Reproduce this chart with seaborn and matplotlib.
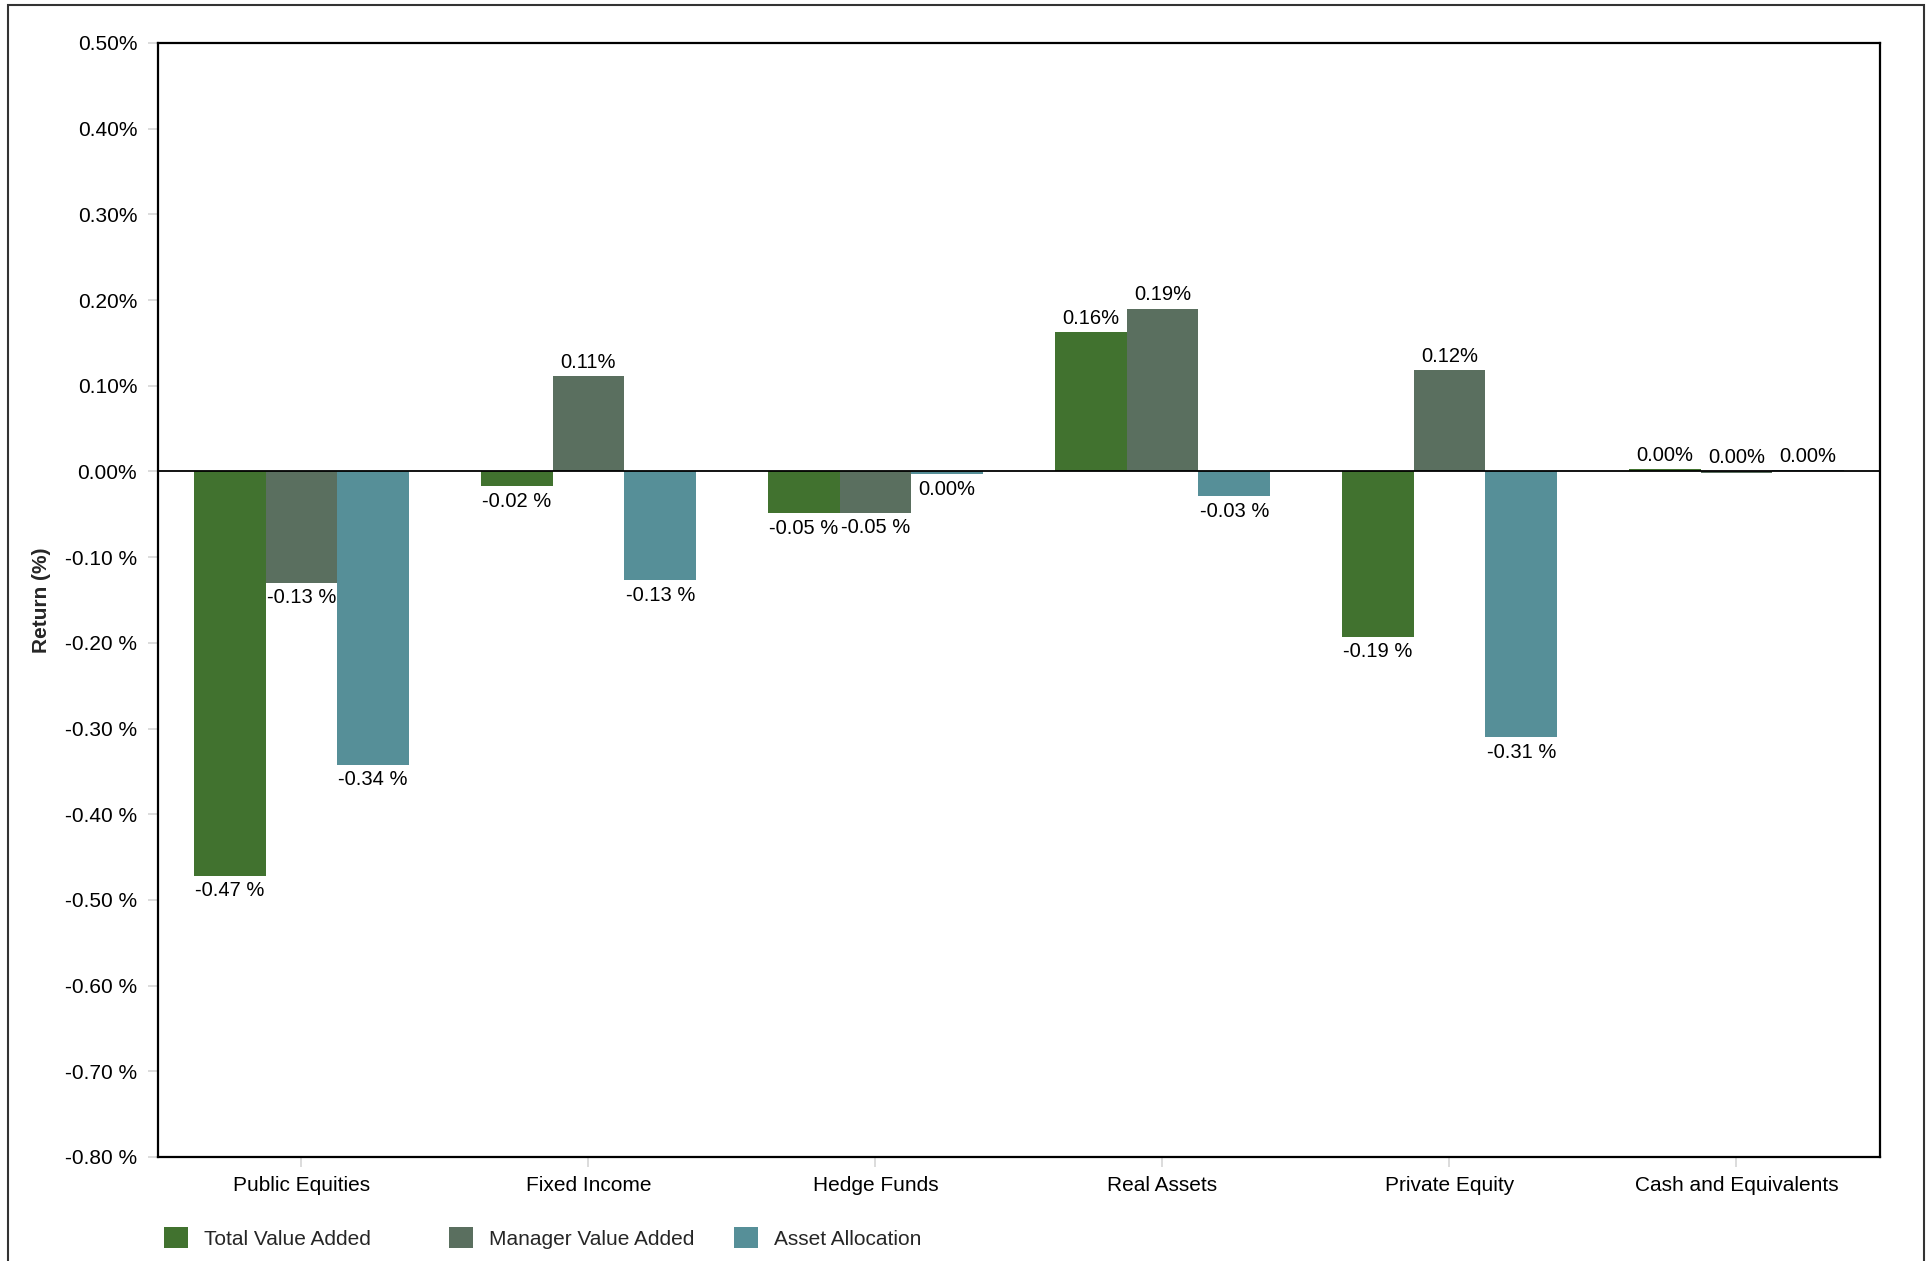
import pandas as pd
import numpy as np
import matplotlib
matplotlib.use("Agg")
import matplotlib.pyplot as plt
from matplotlib.patches import Patch, Rectangle
import seaborn as sns

# Data (return, %)
categories = ["Public Equities", "Fixed Income", "Hedge Funds", "Real Assets",
              "Private Equity", "Cash and Equivalents"]
series = ["Total Value Added", "Manager Value Added", "Asset Allocation"]
total_value_added = [-0.472, -0.017, -0.049, 0.163, -0.193, 0.003]
manager_value_added = [-0.130, 0.111, -0.048, 0.190, 0.118, -0.002]
asset_allocation = [-0.342, -0.127, -0.003, -0.029, -0.310, 0.002]
yticks = [0.5, 0.4, 0.3, 0.2, 0.1, 0.0, -0.1, -0.2, -0.3, -0.4, -0.5, -0.6, -0.7, -0.8]
colors = ["#41722F", "#5A6F5F", "#568F98"]

# long form table for seaborn
df = pd.DataFrame({
    "Category": categories * 3,
    "Series": [s for s in series for _ in categories],
    "Return": total_value_added + manager_value_added + asset_allocation,
})


def pct(v):
    # positives / zero as "0.16%", negatives as "-0.13 %"
    if round(v, 2) >= 0:
        return f"{abs(round(v, 2)):.2f}%"
    return f"{v:.2f} %"


sns.set_theme(style="white")
plt.rcParams['font.family'] = ['Liberation Sans', 'DejaVu Sans']

fig = plt.figure(figsize=(19.33, 12.61), dpi=100)
ax = fig.add_axes([158 / 1933, 1 - 1157 / 1261, (1880 - 158) / 1933, (1157 - 43) / 1261])

sns.barplot(df, x="Category", y="Return", hue="Series", palette=colors,
            hue_order=series, order=categories, width=0.75, saturation=1,
            linewidth=0, edgecolor="none", legend=False, ax=ax)

ax.set_ylim(-0.8, 0.5)
ax.set_yticks(yticks)
ax.set_yticklabels([pct(t) for t in yticks])
ax.set_xlabel("")
ax.set_ylabel("Return (%)", fontsize=15, fontweight="bold", labelpad=10)
ax.axhline(0, color="black", lw=1.3, zorder=3)

for sp in ax.spines.values():
    sp.set_visible(True)
    sp.set_color("black")
    sp.set_linewidth(1.6)

ax.tick_params(axis="both", which="major", labelsize=15, colors="#d9d9d9",
               labelcolor="black", length=7, width=1.3, direction="out")
ax.tick_params(axis="y", pad=8, left=True)
ax.tick_params(axis="x", pad=7, bottom=True)

# value labels above positive bars, below negative ones
values = [total_value_added, manager_value_added, asset_allocation]
for cont, vals in zip(ax.containers, values):
    for bar, v in zip(cont, vals):
        xc = bar.get_x() + bar.get_width() / 2
        if v < -0.0025:
            ax.annotate(pct(v), (xc, v), xytext=(0, -4), textcoords="offset points",
                        ha="center", va="top", fontsize=14.5, color="black", zorder=4)
        else:
            ax.annotate(pct(v), (xc, max(v, 0)), xytext=(0, 3), textcoords="offset points",
                        ha="center", va="bottom", fontsize=14.5, color="black", zorder=4)

# legend entries spaced evenly under the plot
for i, (name, c) in enumerate(zip(series, colors)):
    fig.legend([Patch(facecolor=c, edgecolor="none")], [name], loc="center left",
               bbox_to_anchor=((164 + 285 * i) / 1933, 1 - 1238 / 1261),
               frameon=False, fontsize=15, borderpad=0, borderaxespad=0,
               handlelength=1.15, handleheight=1.15, handletextpad=0.75)

# outer frame of the figure
fig.patches.append(Rectangle((8 / 1933, -0.02), (1924 - 8) / 1933, 1.02 - 5 / 1261,
                             transform=fig.transFigure, fill=False,
                             edgecolor="#333333", lw=1.5))

fig.savefig("out.png", dpi=100)
